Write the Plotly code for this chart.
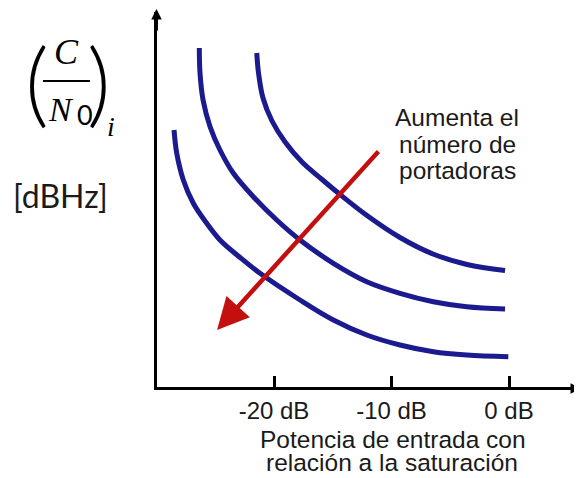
import plotly.graph_objects as go

# ---------------- data ----------------
x_ticks = [-20, -10, 0]
x_tick_labels = ["-20 dB", "-10 dB", "0 dB"]

# three C/N0 curves (x in dB relative to saturation, y in arbitrary units)
curve1_x = [-21.47, -21.32, -20.94, -20.17, -19.06, -17.62, -15.91, -14.38, -12.09, -9.28, -6.47, -3.57, -0.34]
curve1_y = [334, 314, 289, 266, 245, 225, 207.5, 192.5, 171.5, 149.5, 133, 122.5, 116.5]

curve2_x = [-26.36, -26.30, -26.04, -25.45, -24.60, -23.46, -21.76, -19.77, -17.79, -14.95, -12.11, -9.28, -6.44, -3.60, -0.34]
curve2_y = [339, 314, 287, 260.5, 237, 213.7, 190.3, 167, 147, 123.7, 105.3, 93.7, 85.3, 80.3, 78]

curve3_x = [-28.51, -28.28, -27.72, -26.87, -25.73, -24.60, -22.89, -21.19, -17.79, -14.95, -12.11, -9.28, -6.44, -3.60, -0.06]
curve3_y = [257, 233.7, 207, 183.7, 163.7, 147, 129.5, 113.7, 87, 67, 52, 42, 35.3, 32, 30.3]

# red arrow (tail -> tip) in data units
arrow_tail = (-11.0, 237)
arrow_tip = (-24.85, 57)

arrow_text = ["Aumenta el", "número de", "portadoras"]
x_title = ["Potencia de entrada con", "relación a la saturación"]

# ---------------- figure ----------------
OFF = 8  # default page margin of the browser body
W, H = 582 - OFF, 478 - OFF
ML, MR, MT, MB = 157 - OFF, 0, 12 - OFF, 91
PW, PH = W - ML - MR, H - MT - MB


def px(xp):
    return (xp - OFF - ML) / PW


def py(yp):
    return (H - MB - (yp - OFF)) / PH


BLUE = "#1b1b8f"
RED = "#c40f0f"
TXT = "#1a1a1a"
SANS = "Liberation Sans, Arial"

fig = go.Figure()
for cx, cy in [(curve1_x, curve1_y), (curve2_x, curve2_y), (curve3_x, curve3_y)]:
    fig.add_trace(go.Scatter(x=cx, y=cy, mode="lines",
                             line=dict(color=BLUE, width=5, shape="spline", smoothing=1.0),
                             hoverinfo="skip", showlegend=False))

ann = []
# red arrow
ann.append(dict(x=arrow_tip[0], y=arrow_tip[1], ax=arrow_tail[0], ay=arrow_tail[1],
                xref="x", yref="y", axref="x", ayref="y", text="", showarrow=True,
                arrowhead=2, arrowsize=1.4, arrowwidth=4.5, arrowcolor=RED))
# axis arrowheads
ann.append(dict(x=px(156.5), y=py(7), xref="paper", yref="paper", ax=0, ay=25,
                text="", showarrow=True, arrowhead=2, arrowsize=0.7, arrowwidth=3,
                arrowcolor="black"))
ann.append(dict(x=px(583), y=py(388.5), xref="paper", yref="paper", ax=-25, ay=0,
                text="", showarrow=True, arrowhead=2, arrowsize=0.7, arrowwidth=3,
                arrowcolor="black"))

# arrow text
for t, yy in zip(arrow_text, [117, 144, 170]):
    ann.append(dict(x=px(457), y=py(yy), xref="paper", yref="paper", text=t,
                    showarrow=False, xanchor="center", yanchor="middle",
                    font=dict(family=SANS, size=24.5, color=TXT)))

# x axis title
for t, xx, yy in zip(x_title, [393, 391.5], [439, 463]):
    ann.append(dict(x=px(xx), y=py(yy), xref="paper", yref="paper", text=t,
                    showarrow=False, xanchor="center", yanchor="middle",
                    font=dict(family=SANS, size=24.5, color=TXT)))

# y axis label: (C / N0)_i  [dBHz]
SERIF = "Liberation Serif, Times New Roman"
PAREN = dict(family="Lato, Noto Sans", size=92, color="black", weight=300)
ann.append(dict(x=px(37), y=py(80), xref="paper", yref="paper", text="(",
                showarrow=False, xanchor="center", yanchor="middle", font=PAREN))
ann.append(dict(x=px(99), y=py(80), xref="paper", yref="paper", text=")",
                showarrow=False, xanchor="center", yanchor="middle", font=PAREN))
ann.append(dict(x=px(66), y=py(52), xref="paper", yref="paper", text="<i>C</i>",
                showarrow=False, xanchor="center", yanchor="middle",
                font=dict(family=SERIF, size=36, color="black")))
ann.append(dict(x=px(61), y=py(110), xref="paper", yref="paper", text="<i>N</i>",
                showarrow=False, xanchor="center", yanchor="middle",
                font=dict(family=SERIF, size=34, color="black")))
ann.append(dict(x=px(84.5), y=py(114), xref="paper", yref="paper", text="0",
                showarrow=False, xanchor="center", yanchor="middle",
                font=dict(family="Lato, Liberation Sans", size=27, color="black")))
ann.append(dict(x=px(111), y=py(127), xref="paper", yref="paper", text="<i>i</i>",
                showarrow=False, xanchor="center", yanchor="middle",
                font=dict(family=SERIF, size=28, color="black")))
ann.append(dict(x=px(60), y=py(195), xref="paper", yref="paper", text="[dBHz]",
                showarrow=False, xanchor="center", yanchor="middle",
                font=dict(family="Lato, Noto Sans", size=32, color=TXT)))

fig.update_layout(
    width=W, height=H,
    margin=dict(l=ML, r=MR, t=MT, b=MB),
    paper_bgcolor="white", plot_bgcolor="white",
    xaxis=dict(range=[-29.96, 6.21], showgrid=False, zeroline=False,
               showline=True, linecolor="black", linewidth=3,
               ticks="inside", ticklen=11, tickwidth=3, tickcolor="black",
               tickvals=x_ticks, ticktext=x_tick_labels,
               tickfont=dict(family=SANS, size=24, color=TXT),
               fixedrange=True),
    yaxis=dict(range=[0, 375], showgrid=False, zeroline=False,
               showline=True, linecolor="black", linewidth=3,
               showticklabels=False, ticks="", fixedrange=True),
    annotations=ann,
    shapes=[dict(type="line", xref="paper", yref="paper",
                 x0=px(43), x1=px(90), y0=py(81), y1=py(81),
                 line=dict(color="black", width=2))],
)

fig.write_html("out.html")
